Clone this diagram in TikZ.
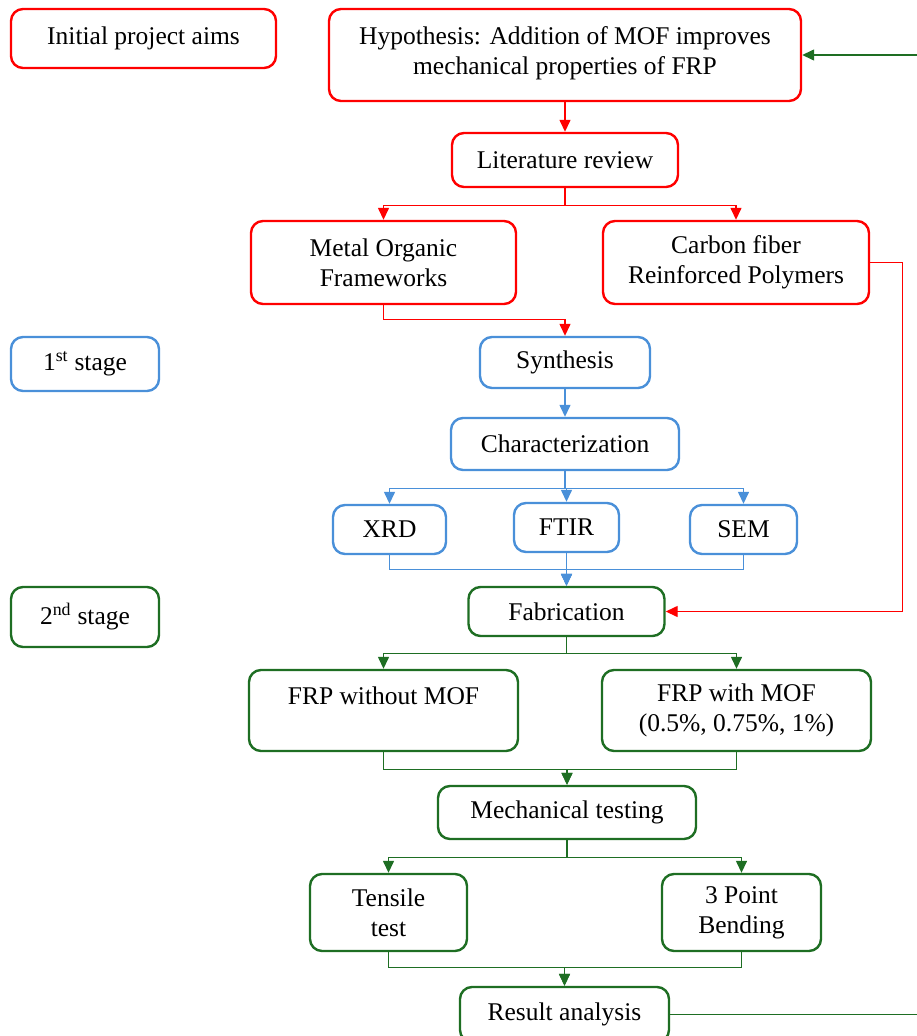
\documentclass[tikz,border=0pt]{standalone}
\usepackage{fontspec}
\setmainfont{Liberation Serif}
\usetikzlibrary{arrows.meta}
\definecolor{cred}{RGB}{255,0,0}
\definecolor{cblue}{RGB}{74,144,217}
\definecolor{cgreen}{RGB}{30,110,35}
\begin{document}
\begin{tikzpicture}[x=1pt,y=-1pt,
  box/.style={draw, line width=2.4pt, rounded corners=12pt, align=center,
    inner sep=0pt, fill=white, font=\fontsize{25.5}{30}\selectfont},
  redbox/.style={box, draw=cred},
  bluebox/.style={box, draw=cblue},
  greenbox/.style={box, draw=cgreen},
  conn/.style={line width=1.4pt, -{Triangle[length=12pt,width=11pt]}},
]
\useasboundingbox (0,0) rectangle (917,1036);
\clip (0,0) rectangle (917,1036);

% red part
\node[redbox, minimum width=265, minimum height=59] (init) at (143.5,38.5) {Initial project aims};
\node[redbox, minimum width=472, minimum height=92, text depth=9pt] (hyp) at (565,55) {Hypothesis: Addition of MOF improves\\mechanical properties of FRP};
\node[redbox, minimum width=226, minimum height=54] (lit) at (565,160) {Literature review};
\node[redbox, minimum width=265, minimum height=83] (mof) at (383.5,262.5) {Metal Organic\\Frameworks};
\node[redbox, minimum width=266, minimum height=83] (cfrp) at (736,262.5) {Carbon fiber\\Reinforced Polymers};

% blue part
\node[bluebox, minimum width=148, minimum height=54] (st1) at (85,364) {1\textsuperscript{st} stage};
\node[bluebox, minimum width=170, minimum height=51] (syn) at (565,362.5) {Synthesis};
\node[bluebox, minimum width=228, minimum height=52] (char) at (565,444) {Characterization};
\node[bluebox, minimum width=113, minimum height=49] (xrd) at (389.5,529.5) {XRD};
\node[bluebox, minimum width=105, minimum height=49] (ftir) at (566.5,527.5) {FTIR};
\node[bluebox, minimum width=107, minimum height=49] (sem) at (743.5,529.5) {SEM};

% green part
\node[greenbox, minimum width=148, minimum height=60] (st2) at (85,617) {2\textsuperscript{nd} stage};
\node[greenbox, minimum width=196, minimum height=49] (fab) at (566.5,611.5) {Fabrication};
\node[greenbox, minimum width=269, minimum height=81] (frpwo) at (383.5,710.5) {FRP without MOF\\~};
\node[greenbox, minimum width=269, minimum height=81] (frpw) at (736.5,710.5) {FRP with MOF\\(0.5\%, 0.75\%, 1\%)};
\node[greenbox, minimum width=258, minimum height=53] (mech) at (567,812.5) {Mechanical testing};
\node[greenbox, minimum width=157, minimum height=77] (tens) at (388.5,912.5) {Tensile\\test};
\node[greenbox, minimum width=159, minimum height=77] (bend) at (741.5,912.5) {3 Point\\Bending};
\node[greenbox, minimum width=209, minimum height=55] (res) at (564.5,1014.5) {Result analysis};

% red connectors
\draw[conn, cred] (hyp.south) -- (lit.north);
\draw[conn, cred] (lit.south) -- ++(0,17) -| (mof.north);
\draw[conn, cred] (lit.south) -- ++(0,17) -| (cfrp.north);
\draw[conn, cred] (mof.south) -- ++(0,14) -| (syn.north);
\draw[conn, cred] (cfrp.east) -- ++(32,0) |- (fab.east);

% blue connectors
\draw[conn, cblue] (syn.south) -- (char.north);
\draw[conn, cblue] (char.south) -- ++(0,17) -| (xrd.north);
\draw[conn, cblue] (char.south) -- ++(0,17) -| (ftir.north);
\draw[conn, cblue] (char.south) -- ++(0,17) -| (sem.north);
\draw[conn, cblue] (xrd.south) -- ++(0,14) -| (fab.north);
\draw[conn, cblue] (sem.south) -- ++(0,14) -| (fab.north);
\draw[conn, cblue] (ftir.south) -- (fab.north);

% green connectors
\draw[conn, cgreen] (fab.south) -- ++(0,16) -| (frpwo.north);
\draw[conn, cgreen] (fab.south) -- ++(0,16) -| (frpw.north);
\draw[conn, cgreen] (frpwo.south) -- ++(0,17) -| (mech.north);
\draw[conn, cgreen] (frpw.south) -- ++(0,17) -| (mech.north);
\draw[conn, cgreen] (mech.south) -- ++(0,17) -| (tens.north);
\draw[conn, cgreen] (mech.south) -- ++(0,17) -| (bend.north);
\draw[conn, cgreen] (tens.south) -- ++(0,15) -| (res.north);
\draw[conn, cgreen] (bend.south) -- ++(0,15) -| (res.north);
\draw[conn, cgreen] (res.east) -- ++(320,0) |- (hyp.east);
\end{tikzpicture}
\end{document}
